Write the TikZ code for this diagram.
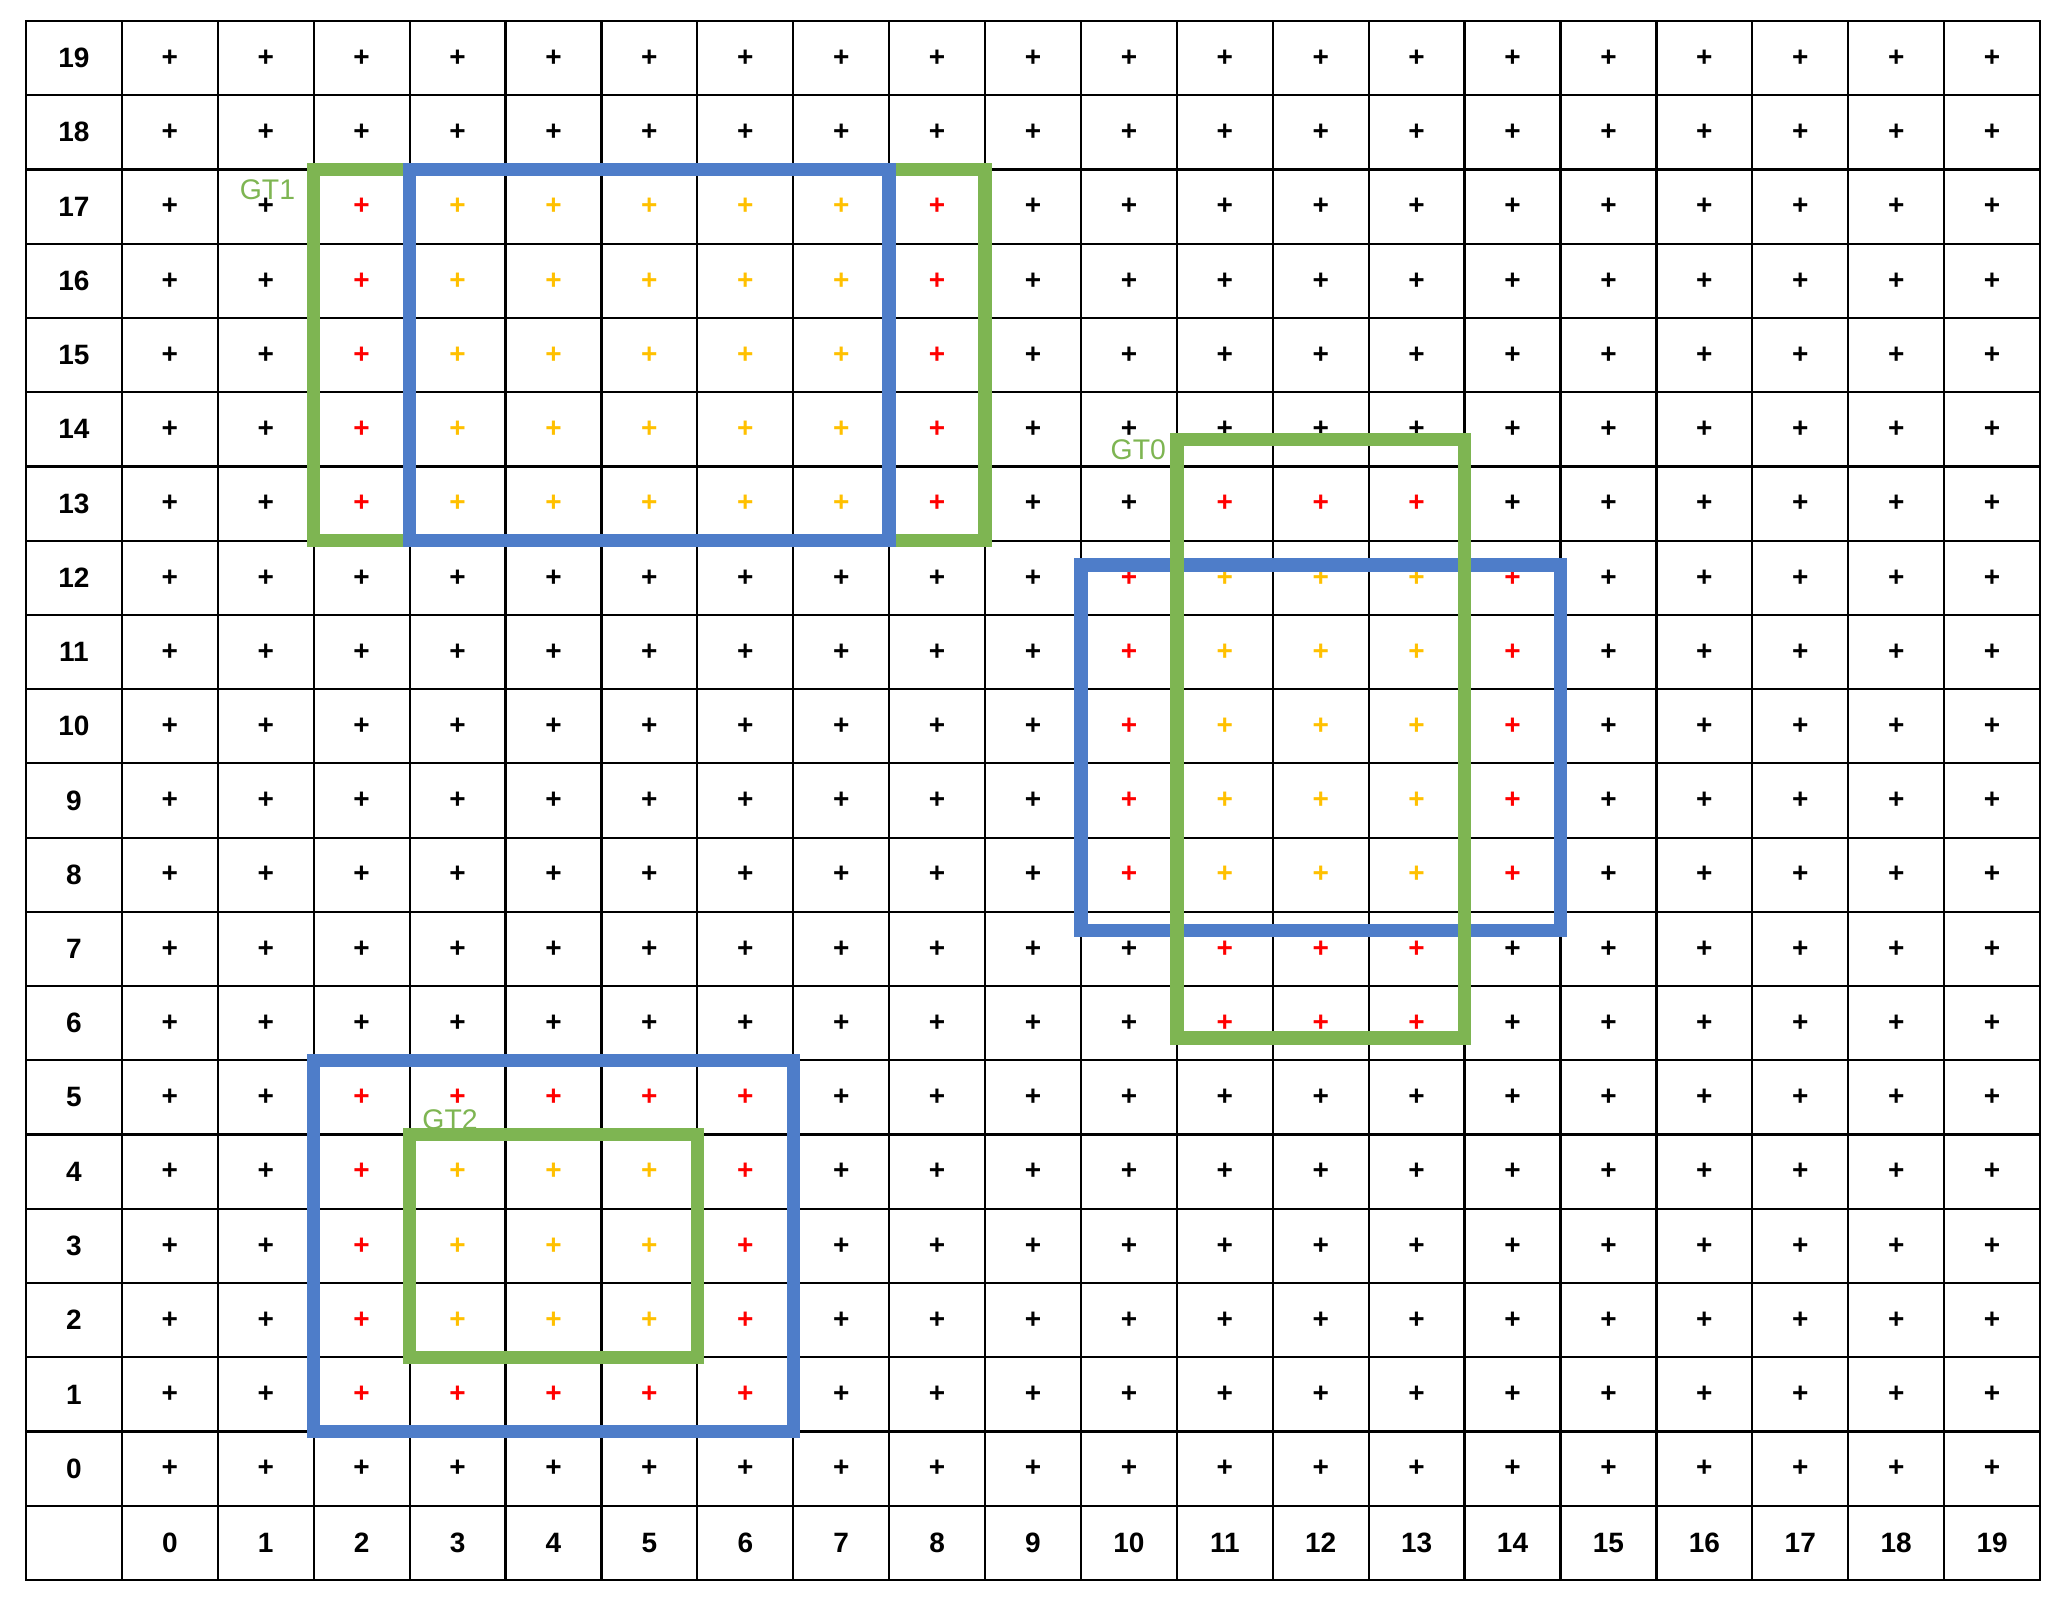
\documentclass[tikz,border=0pt]{standalone}
\usepackage{fontspec}
\setmainfont{Liberation Sans}
\definecolor{gtgreen}{HTML}{7EB552}
\definecolor{gtblue}{HTML}{4E7DC9}
\definecolor{pgold}{HTML}{FFC000}
\definecolor{pred}{HTML}{FF0000}
\begin{document}
\begin{tikzpicture}[
  gridline/.style={line width=1.1pt, draw=black},
  num/.style={font=\fontsize{14}{16}\selectfont\bfseries, inner sep=0pt},
  pl/.style={font=\fontsize{14}{16}\selectfont\bfseries, inner sep=0pt},
  greenbox/.style={line width=6.75pt, draw=gtgreen},
  bluebox/.style={line width=6.75pt, draw=gtblue},
  gtlab/.style={font=\fontsize{14.2}{16}\selectfont, text=gtgreen, inner sep=0pt}
]
\useasboundingbox (0pt,0pt) rectangle (1035pt,-800pt);
\begin{scope}[shift={(13pt,-10.5pt)}, x=47.9525pt, y=-37.119pt]
  % grid
  \draw[gridline] (0,0) rectangle (21,21);
  \foreach \i in {1,...,20}{
    \draw[gridline] (\i,0) -- (\i,21);
    \draw[gridline] (0,\i) -- (21,\i);
  }
  % row and column labels
  \foreach \v in {0,...,19}{
    \node[num] (r\v) at (0.5,{19.5-\v}) {\v};
    \node[num] (c\v) at ({\v+1.5},20.5) {\v};
  }
  % plus marks
  \foreach \k in {0,...,19}{
    \foreach \v in {0,...,19}{
      \pgfmathtruncatemacro\isY{((\k>2)&&(\k<8)&&(\v>12)&&(\v<18))||((\k>10)&&(\k<14)&&(\v>7)&&(\v<13))||((\k>2)&&(\k<6)&&(\v>1)&&(\v<5))}
      \pgfmathtruncatemacro\isR{((\k>1)&&(\k<9)&&(\v>12)&&(\v<18))||((\k>10)&&(\k<14)&&(\v>5)&&(\v<14))||((\k>9)&&(\k<15)&&(\v>7)&&(\v<13))||((\k>1)&&(\k<7)&&(\v>0)&&(\v<6))}
      \ifnum\isY=1 \def\pc{pgold}\else\ifnum\isR=1 \def\pc{pred}\else\def\pc{black}\fi\fi
      \node[pl, text=\pc] (p-\k-\v) at ({\k+1.5},{19.5-\v}) {+};
    }
  }
  % GT1
  \draw[greenbox] (3,2) rectangle (10,7);
  \draw[bluebox] (4,2) rectangle (9,7);
  % GT0
  \draw[bluebox] (11,7.33) rectangle (16,12.25);
  \draw[greenbox] (12,5.64) rectangle (15,13.70);
  % GT2
  \draw[bluebox] (3,14) rectangle (8,19);
  \draw[greenbox] (4,15) rectangle (7,18);
  % labels
  \node[gtlab, anchor=base east] (gt1) at (2.81,2.40) {GT1};
  \node[gtlab, anchor=base east] (gt0) at (11.89,5.91) {GT0};
  \node[gtlab, anchor=base west] (gt2) at (4.13,14.93) {GT2};
\end{scope}
\end{tikzpicture}
\end{document}
